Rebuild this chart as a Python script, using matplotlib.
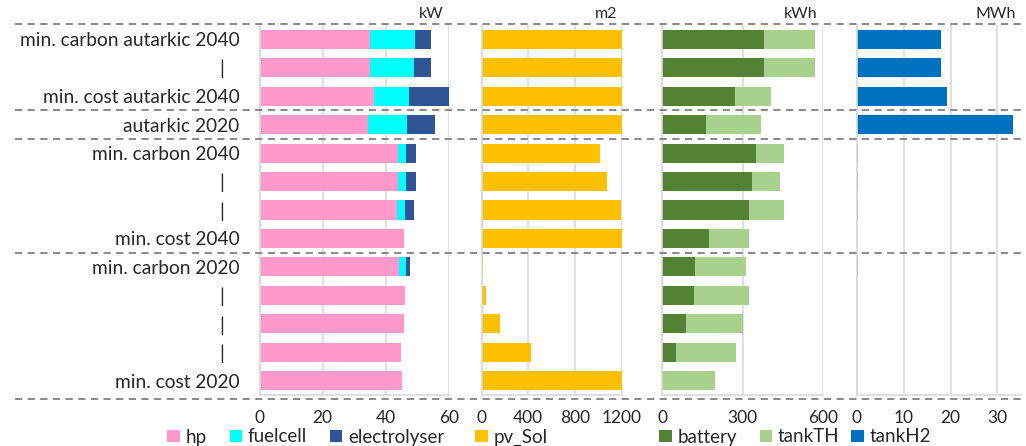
import numpy as np
import matplotlib.pyplot as plt
from matplotlib.lines import Line2D
from matplotlib.transforms import blended_transform_factory

plt.rcParams['font.family'] = ['Lato', 'DejaVu Sans']

# scenario labels, top to bottom
labels = ['min. carbon autarkic 2040', '|   ', 'min. cost autarkic 2040',
          'autarkic 2020',
          'min. carbon 2040', '|   ', '|   ', 'min. cost 2040',
          'min. carbon 2020', '|   ', '|   ', '|   ', 'min. cost 2020']

# kW
hp = [35.1, 35.1, 36.2, 34.2, 43.9, 43.9, 43.5, 45.8, 44.2, 46.0, 45.8, 44.9, 45.2]
fuelcell = [14.1, 13.8, 11.1, 12.5, 2.6, 2.6, 2.5, 0, 2.1, 0, 0, 0, 0]
electrolyser = [5.2, 5.5, 12.9, 9.0, 2.9, 3.1, 2.9, 0, 1.3, 0, 0, 0, 0]
# m2
pv_sol = [1200, 1200, 1200, 1200, 1017, 1073, 1195, 1200, 10, 37, 161, 419, 1200]
# kWh
battery = [382, 382, 272, 162, 349, 335, 326, 175, 122, 120, 90, 52, 0]
tank_th = [191, 191, 133, 207, 107, 106, 130, 151, 191, 206, 211, 225, 199]
# MWh
tank_h2 = [18.0, 18.0, 19.2, 33.3, 0.2, 0.2, 0.2, 0, 0.2, 0, 0, 0, 0]

c_hp, c_fc, c_el = '#FF99CC', '#00FFFF', '#2F5597'
c_pv = '#FFC000'
c_bat, c_th = '#548235', '#A9D18E'
c_h2 = '#0070C0'
grid_c = '#D9D9D9'
txt_c = '#262626'
fs = 12.5

fig = plt.figure(figsize=(10.26, 4.46), dpi=100)
W, H = 1026.0, 446.0
top, bottom = 25, 395
y = np.arange(len(labels))
bh = 0.67


def make_ax(left_px, right_px, xmax, ticks, unit):
    ax = fig.add_axes([left_px / W, 1 - bottom / H, (right_px - left_px) / W, (bottom - top) / H])
    ax.set_xlim(0, xmax)
    ax.set_ylim(len(labels) - 0.5, -0.5)
    ax.set_xticks(ticks)
    ax.set_xticklabels([str(t) for t in ticks])
    ax.xaxis.grid(True, color=grid_c, lw=1.2)
    ax.set_axisbelow(True)
    for s in ['top', 'right']:
        ax.spines[s].set_visible(False)
    for s in ['left', 'bottom']:
        ax.spines[s].set_color(grid_c)
        ax.spines[s].set_linewidth(1.2)
    ax.tick_params(length=0, labelsize=fs, colors=txt_c, pad=11)
    ax.set_yticks([])
    ax.text(0.97, 1.01, unit, transform=ax.transAxes, ha='right', va='bottom',
            fontsize=fs - 1, color=txt_c)
    return ax


ax1 = make_ax(259.5, 449, 60, [0, 20, 40, 60], 'kW')
ax1.barh(y, hp, bh, color=c_hp, label='hp')
ax1.barh(y, fuelcell, bh, left=hp, color=c_fc, label='fuelcell')
ax1.barh(y, electrolyser, bh, left=np.add(hp, fuelcell), color=c_el, label='electrolyser')
ax1.set_yticks(y)
ax1.set_yticklabels(labels, fontsize=fs + 1.3, color=txt_c)
ax1.tick_params(axis='y', pad=14.5)

ax2 = make_ax(481.7, 621.5, 1200, [0, 400, 800, 1200], 'm2')
ax2.barh(y, pv_sol, bh, color=c_pv, label='pv_Sol')

ax3 = make_ax(662.3, 822.7, 600, [0, 300, 600], 'kWh')
ax3.barh(y, battery, bh, color=c_bat, label='battery')
ax3.barh(y, tank_th, bh, left=battery, color=c_th, label='tankTH')

ax4 = make_ax(856.7, 856.7 + 35 * 4.69, 35, [0, 10, 20, 30], 'MWh')
ax4.barh(y, tank_h2, bh, color=c_h2, label='tankH2')

# dashed group separators across the whole figure
tr = blended_transform_factory(fig.transFigure, ax1.transData)
for yy in [-0.55, 2.5, 3.5, 7.5, 12.65]:
    fig.add_artist(Line2D([0.015, 1.0], [yy, yy], transform=tr, color='#808080',
                          lw=1.3, ls=(0, (4, 3))))

# legends along the bottom
leg_y = 1 - 437 / H
for ax, x0 in [(ax1, 158), (ax2, 466), (ax3, 650), (ax4, 842)]:
    ax.legend(loc='center left', bbox_to_anchor=(x0 / W, leg_y), bbox_transform=fig.transFigure,
              ncol=3, frameon=False, fontsize=fs + 1, handlelength=0.65, handleheight=0.65,
              handletextpad=0.3, columnspacing=1.25, borderpad=0, labelcolor=txt_c)

fig.savefig('out.png', dpi=100)
